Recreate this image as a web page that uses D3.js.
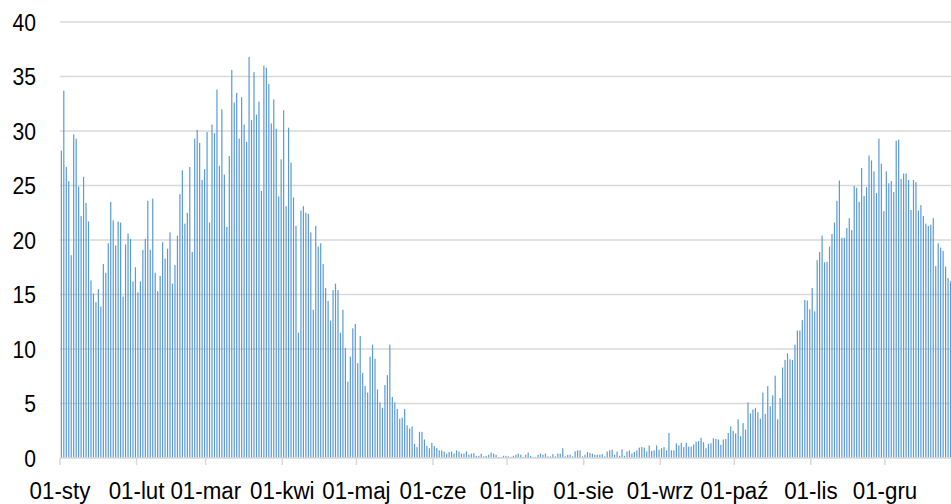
<!DOCTYPE html>
<html>
<head>
<meta charset="utf-8">
<script src="https://cdn.jsdelivr.net/npm/d3@7"></script>
<style>
  body { margin: 0; background: #fff; }
  text { font-family: "Liberation Sans", Arial, sans-serif; fill: #000; }
</style>
</head>
<body>
<div id="chart"></div>
<script>
// wartości dzienne, po jednej tablicy na miesiąc
const sty = [28.2,33.7,26.7,25.4,18.6,29.7,29.3,24.9,22.2,25.8,23.4,21.7,16.3,15.1,14.3,15.5,13.9,17.8,17.0,19.7,23.5,21.8,19.5,21.7,21.6,14.8,19.6,20.6,20.1,16.2,17.5];
const lut = [15.2,16.2,19.1,20.1,23.6,19.1,23.8,17.0,15.3,16.7,19.8,18.3,19.2,20.7,16.0,17.7,20.4,24.2,26.4,21.5,22.5,26.7,18.9,29.3,30.1,28.9,25.5,26.5];
const mar = [29.9,21.6,30.6,29.8,33.8,26.8,32.0,26.0,21.2,27.7,35.6,32.6,33.5,29.3,33.1,30.6,29.0,36.8,31.0,35.4,31.5,32.7,24.5,36.0,35.8,34.3,30.7,32.9,30.2,24.0,27.4];
const kwi = [31.9,23.1,30.3,27.1,23.9,21.3,11.5,22.7,23.1,22.5,22.4,20.7,13.6,21.3,19.4,19.7,17.8,15.6,14.4,12.6,15.4,16.0,15.4,11.5,13.6,10.1,7.0,9.3,11.9,12.3];
const maj = [8.7,11.2,7.8,6.6,6.0,9.3,10.4,9.1,6.3,5.1,4.6,6.7,7.6,10.4,5.6,5.1,4.5,3.6,3.7,4.5,3.0,2.7,2.9,1.3,1.0,2.4,2.4,1.7,1.1,0.9,1.4];
const cze = [1.1,0.9,0.7,0.7,0.6,0.4,0.55,0.6,0.4,0.7,0.6,0.4,0.4,0.6,0.3,0.4,0.45,0.2,0.2,0.4,0.15,0.2,0.3,0.5,0.4,0.3,0.1,0.1,0.2,0.2];
const lip = [0.15,0.1,0.2,0.3,0.4,0.3,0.1,0.3,0.5,0.2,0.1,0.1,0.3,0.4,0.3,0.4,0.15,0.15,0.35,0.15,0.4,0.4,0.9,0.15,0.3,0.3,0.15,0.6,0.7,0.7,0.15];
const sie = [0.3,0.55,0.45,0.4,0.3,0.3,0.3,0.35,0.15,0.6,0.7,0.75,0.3,0.6,0.2,0.8,0.2,0.6,0.7,0.4,0.55,0.7,0.95,1.0,0.95,0.6,1.15,0.65,0.7,1.15,0.75];
const wrz = [0.9,1.0,0.7,2.3,0.7,0.7,1.35,1.15,1.4,1.0,1.4,1.05,1.05,1.25,1.5,1.55,1.85,1.45,0.9,1.3,1.35,1.8,1.75,1.7,1.2,1.7,1.75,2.3,2.9,2.5];
const paz = [2.25,3.55,2.0,3.2,2.6,5.1,4.1,4.45,4.6,4.2,3.6,6.0,4.05,6.6,4.75,5.75,7.55,3.55,5.5,8.3,9.0,9.6,9.05,9.0,10.4,11.7,11.7,12.65,14.5,14.45,13.65];
const lis = [15.6,13.45,18.15,18.9,20.4,17.95,18.0,19.4,20.55,21.6,23.6,25.45,20.2,20.2,21.1,22.0,20.9,24.95,24.8,23.5,26.6,24.05,24.85,27.75,27.3,26.3,24.3,29.3,27.0,22.65];
const gru = [26.3,25.2,25.4,24.4,29.1,29.2,25.6,26.1,26.1,25.5,22.75,25.5,25.3,22.7,23.2,22.2,21.5,21.3,21.4,22.0,17.6,19.7,19.3,19.0,17.55,16.5,16.2];

const monthLabels = ["01-sty","01-lut","01-mar","01-kwi","01-maj","01-cze","01-lip","01-sie","01-wrz","01-paź","01-lis","01-gru"];
const yTicks = [0,5,10,15,20,25,30,35,40];

const months = [sty, lut, mar, kwi, maj, cze, lip, sie, wrz, paz, lis, gru];
const data = [];
months.forEach(function(vals, m) {
  vals.forEach(function(v, i) {
    data.push({ date: new Date(2021, m, i + 1), value: v });
  });
});

const width = 951, height = 504;
const left = 60, dayW = 2.47;
const start = new Date(2021, 0, 1), end = new Date(2022, 0, 1);

const svg = d3.select("#chart").append("svg")
  .attr("width", width)
  .attr("height", height);

const x = d3.scaleTime().domain([start, end]).range([left, left + dayW * 365]);
const y = d3.scaleLinear().domain([0, 40]).range([458, 22]);

// siatka
svg.append("g").selectAll("line")
  .data(yTicks.filter(function(d) { return d > 0; }))
  .enter().append("line")
  .attr("x1", left).attr("x2", width)
  .attr("y1", function(d) { return y(d); })
  .attr("y2", function(d) { return y(d); })
  .attr("stroke", "#d9d9d9")
  .attr("stroke-width", 1.5);

// słupki
svg.append("g").selectAll("rect")
  .data(data)
  .enter().append("rect")
  .attr("x", function(d) { return x(d.date) + dayW * 0.3; })
  .attr("width", 1.2)
  .attr("y", function(d) { return y(d.value); })
  .attr("height", function(d) { return y(0) - y(d.value); })
  .attr("fill", "#5b9bd5");

// oś X
svg.append("line")
  .attr("x1", left).attr("x2", width)
  .attr("y1", y(0)).attr("y2", y(0))
  .attr("stroke", "#d9d9d9")
  .attr("stroke-width", 1.5);

const monthStarts = d3.timeMonth.range(start, end);
svg.append("g").selectAll("line")
  .data(monthStarts)
  .enter().append("line")
  .attr("x1", function(d) { return x(d); })
  .attr("x2", function(d) { return x(d); })
  .attr("y1", y(0)).attr("y2", y(0) + 7)
  .attr("stroke", "#d9d9d9")
  .attr("stroke-width", 1.5);

svg.append("g").selectAll("g")
  .data(monthStarts)
  .enter().append("g")
  .attr("transform", function(d) { return "translate(" + x(d) + ",499)"; })
  .append("text")
  .attr("transform", "scale(0.95,1)")
  .attr("text-anchor", "middle")
  .attr("font-size", "23.5px")
  .text(function(d, i) { return monthLabels[i]; });

// oś Y
svg.append("g").selectAll("g")
  .data(yTicks)
  .enter().append("g")
  .attr("transform", function(d) { return "translate(36," + (y(d) + 8.5) + ")"; })
  .append("text")
  .attr("transform", "scale(0.92,1)")
  .attr("text-anchor", "end")
  .attr("font-size", "23px")
  .text(function(d) { return d; });
</script>
</body>
</html>
